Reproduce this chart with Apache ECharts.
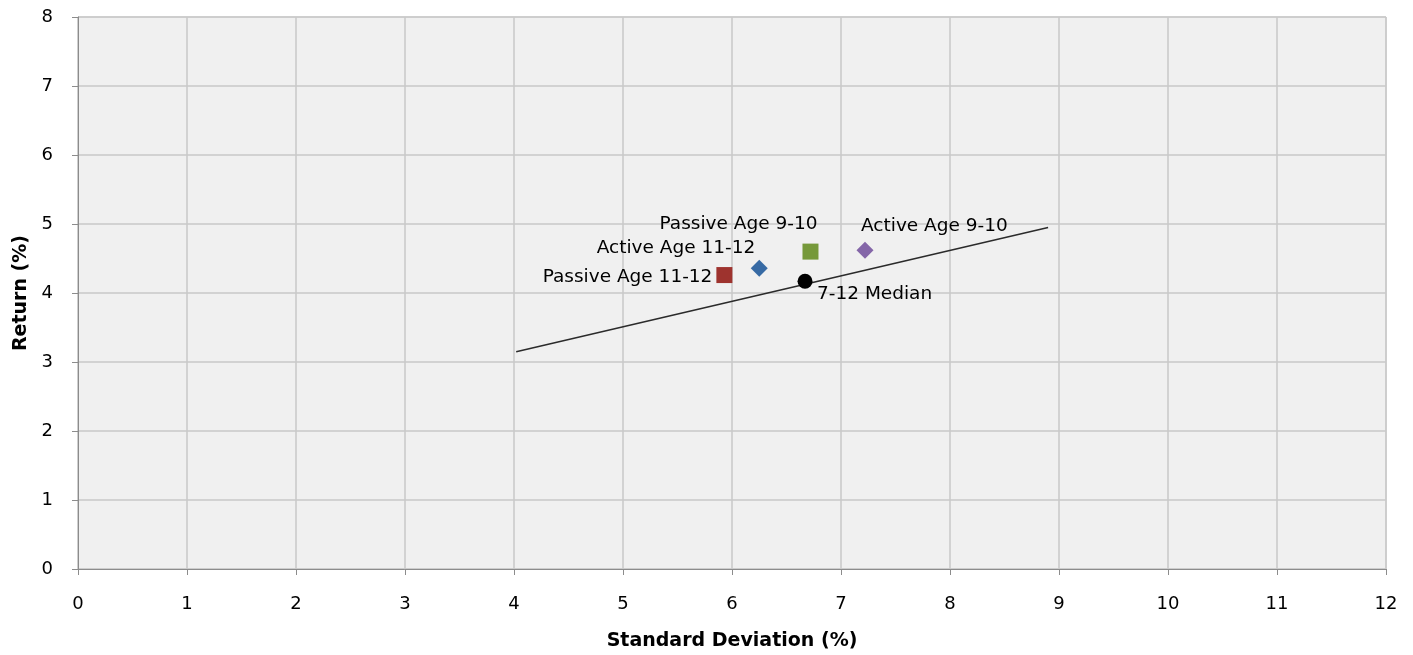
<!DOCTYPE html>
<html>
<head>
<meta charset="utf-8">
<script src="https://cdn.jsdelivr.net/npm/echarts@6/dist/echarts.min.js"></script>
<style>
  html, body { margin: 0; padding: 0; background: #fff; }
  #chart { width: 1413px; height: 655px; }
</style>
</head>
<body>
<div id="chart"></div>
<script>
// Risk / return points (standard deviation %, return %)
const passive1112 = [5.93, 4.26];
const active1112 = [6.25, 4.36];
const passive910 = [6.72, 4.60];
const active910 = [7.22, 4.62];
const median712 = [6.67, 4.17];
// Fitted line endpoints
const trendLine = [[4.02, 3.15], [8.90, 4.95]];

const xTicks = [0, 12, 1];
const yTicks = [0, 8, 1];

const FONT = 'DejaVu Sans';
const labelBase = { show: true, position: 'inside', fontFamily: FONT, fontSize: 18.5, color: '#000000' };

function point(name, value, symbol, size, color, align, offset) {
  return {
    name: name,
    type: 'scatter',
    data: [value],
    symbol: symbol,
    symbolSize: size,
    itemStyle: { color: color, opacity: 1 },
    label: Object.assign({}, labelBase, { formatter: name, align: align, offset: offset }),
    z: 3
  };
}

const chart = echarts.init(document.getElementById('chart'));
chart.setOption({
  animation: false,
  grid: {
    left: 78, top: 17, right: 27, bottom: 86, show: true,
    outerBoundsMode: 'none', containLabel: false,
    backgroundColor: '#f0f0f0', borderColor: '#c4c4c4', borderWidth: 1
  },
  xAxis: {
    type: 'value', min: xTicks[0], max: xTicks[1], interval: xTicks[2],
    name: 'Standard Deviation (%)', nameLocation: 'middle', nameGap: 63,
    nameTextStyle: { fontFamily: FONT, fontSize: 19, fontWeight: 'bold', color: '#000000' },
    axisLine: { onZero: false, lineStyle: { color: '#8c8c8c', width: 1 } },
    axisTick: { show: true, length: 6, lineStyle: { color: '#8c8c8c' } },
    axisLabel: { fontFamily: FONT, fontSize: 18, color: '#000000', margin: 26 },
    splitLine: { show: true, lineStyle: { color: '#c8c8c8', width: 1.5 } }
  },
  yAxis: {
    type: 'value', min: yTicks[0], max: yTicks[1], interval: yTicks[2],
    name: 'Return (%)', nameLocation: 'middle', nameGap: 46, nameRotate: 90,
    nameTextStyle: { fontFamily: FONT, fontSize: 19, fontWeight: 'bold', color: '#000000' },
    axisLine: { show: true, onZero: false, lineStyle: { color: '#8c8c8c', width: 1 } },
    axisTick: { show: true, length: 6, lineStyle: { color: '#8c8c8c' } },
    axisLabel: { fontFamily: FONT, fontSize: 18, color: '#000000', margin: 25 },
    splitLine: { show: true, lineStyle: { color: '#c8c8c8', width: 1.5 } }
  },
  series: [
    {
      type: 'line', data: trendLine, symbol: 'none',
      lineStyle: { color: '#2b2b2b', width: 1.5 }, z: 2, silent: true
    },
    point('Passive Age 11-12', passive1112, 'rect', 16, '#9e332e', 'right', [-12, 2]),
    point('Active Age 11-12', active1112, 'diamond', 17, '#376aa4', 'right', [-4, -20]),
    point('Passive Age 9-10', passive910, 'rect', 16, '#76993a', 'right', [7, -27]),
    point('Active Age 9-10', active910, 'diamond', 17, '#8466a8', 'left', [-4, -24]),
    point('7-12 Median', median712, 'circle', 15, '#000000', 'left', [12, 13])
  ]
});
</script>
</body>
</html>
